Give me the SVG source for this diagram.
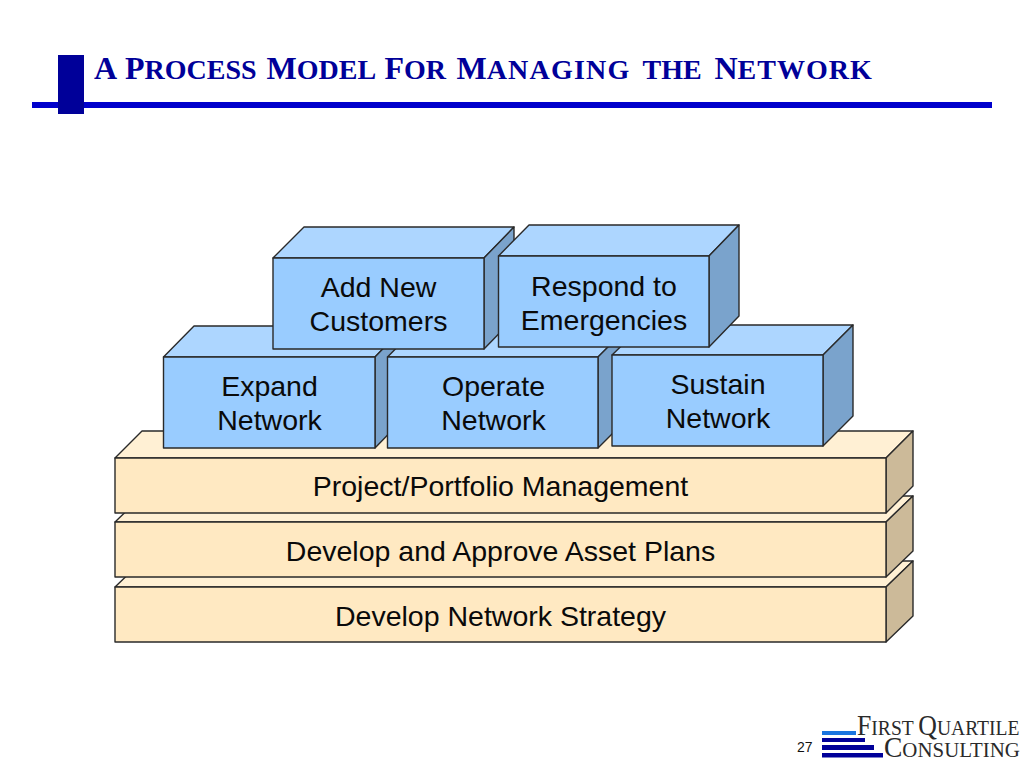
<svg xmlns="http://www.w3.org/2000/svg" width="1024" height="768" viewBox="0 0 1024 768">
<style>
.s{stroke:#2a2a2a;stroke-width:1.4;stroke-linejoin:round}
.bf{fill:#99ccff}.bt{fill:#add6ff}.bs{fill:#7aa3cc}
.yf{fill:#ffe9c2}.yt{fill:#fff0d4}.ys{fill:#ccba99}
.l{font-family:"Liberation Sans",Arial,sans-serif;font-size:28.500px;fill:#0a0a0a;text-anchor:middle}
.t{font-family:"Liberation Serif","Times New Roman",serif;font-weight:bold;font-size:28px;fill:#000099}
.t .c{font-size:32px}
.q{font-family:"Liberation Serif","Times New Roman",serif;font-size:22px;fill:#2a2a2a}
.q .c{font-size:29px}
</style>
<rect width="1024" height="768" fill="#fff"/>
<g id="header">
<rect x="32" y="102" width="960" height="6" fill="#0000cc"/>
<rect x="58" y="55" width="26" height="59" fill="#000099"/>
<text class="t" x="94" y="79"><tspan class="c">A </tspan><tspan class="c" x="125">P</tspan>ROCESS <tspan class="c" x="266.500">M</tspan>ODEL <tspan class="c" x="384.500">F</tspan>OR <tspan class="c" x="456.500">M</tspan><tspan letter-spacing="1.200">ANAGING</tspan> <tspan x="642.500">THE</tspan> <tspan class="c" x="714.500">N</tspan><tspan letter-spacing="1">ETWORK</tspan></text>
</g>
<g id="strategy">
<polygon class="s yt" points="115,587 142,561 913,561 886,587"/>
<polygon class="s ys" points="886,587 913,561 913,616 886,642"/>
<rect class="s yf" x="115" y="587" width="771" height="55"/>
<text class="l" x="500.500" y="626">Develop Network Strategy</text>
</g>
<g id="plans">
<polygon class="s yt" points="115,522 142,496 913,496 886,522"/>
<polygon class="s ys" points="886,522 913,496 913,551 886,577"/>
<rect class="s yf" x="115" y="522" width="771" height="55"/>
<text class="l" x="500.500" y="561">Develop and Approve Asset Plans</text>
</g>
<g id="portfolio">
<polygon class="s yt" points="115,458 142,431 913,431 886,458"/>
<polygon class="s ys" points="886,458 913,431 913,486 886,513"/>
<rect class="s yf" x="115" y="458" width="771" height="55"/>
<text class="l" x="500.500" y="496">Project/Portfolio Management</text>
</g>
<g id="expand">
<polygon class="s bt" points="163.500,357 194,326 405,326 375,357"/>
<polygon class="s bs" points="375,357 405,326 405,417 375,448"/>
<rect class="s bf" x="163.500" y="357" width="211.500" height="91"/>
<text class="l" x="269.500" y="396">Expand</text><text class="l" x="269.500" y="430">Network</text>
</g>
<g id="operate">
<polygon class="s bt" points="387.500,357 418,326 629,326 598,357"/>
<polygon class="s bs" points="598,357 629,326 629,417 598,448"/>
<rect class="s bf" x="387.500" y="357" width="210.500" height="91"/>
<text class="l" x="493.500" y="396">Operate</text><text class="l" x="493.500" y="430">Network</text>
</g>
<g id="sustain">
<polygon class="s bt" points="612,355 643,325 853,325 823,355"/>
<polygon class="s bs" points="823,355 853,325 853,416 823,446"/>
<rect class="s bf" x="612" y="355" width="211" height="91"/>
<text class="l" x="718" y="394">Sustain</text><text class="l" x="718" y="428">Network</text>
</g>
<g id="add-customers">
<polygon class="s bt" points="273,258 304,227 514,227 484,258"/>
<polygon class="s bs" points="484,258 514,227 514,318 484,349"/>
<rect class="s bf" x="273" y="258" width="211" height="91"/>
<text class="l" x="378.500" y="297">Add New</text><text class="l" x="378.500" y="331">Customers</text>
</g>
<g id="emergencies">
<polygon class="s bt" points="498.500,256 529,225 739,225 709,256"/>
<polygon class="s bs" points="709,256 739,225 739,316 709,347"/>
<rect class="s bf" x="498.500" y="256" width="210.500" height="91"/>
<text class="l" x="604" y="296">Respond to</text><text class="l" x="604" y="330">Emergencies</text>
</g>
<g id="connectors"/>
<g id="footer">
<text x="797" y="752" font-family="'Liberation Sans',Arial,sans-serif" font-size="14" fill="#111">27</text>
<rect x="822" y="731" width="34" height="4" fill="#1a75e0"/>
<rect x="822" y="738" width="43" height="4" fill="#000099"/>
<rect x="822" y="745" width="52" height="5" fill="#000099"/>
<rect x="822" y="753" width="61" height="4.500" fill="#000099"/>
<text class="q" transform="translate(857 735) scale(.89 1)"><tspan class="c">F</tspan>IRST <tspan class="c">Q</tspan>UARTILE</text>
<text class="q" transform="translate(884 757) scale(.95 1)"><tspan class="c">C</tspan>ONSULTING</text>
</g>
</svg>
